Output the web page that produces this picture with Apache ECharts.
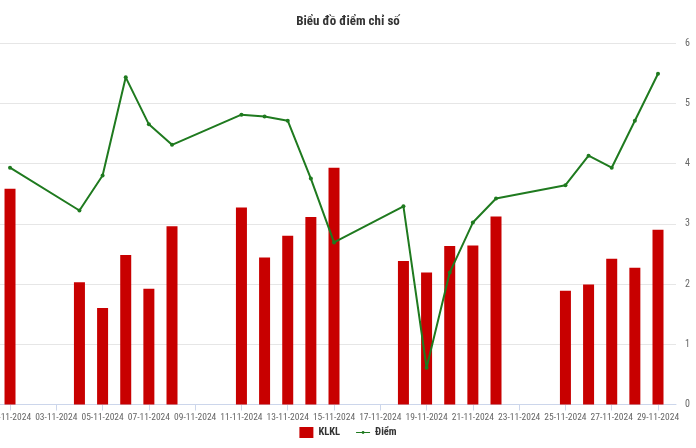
<!DOCTYPE html>
<html>
<head>
<meta charset="utf-8">
<script src="https://cdn.jsdelivr.net/npm/echarts@6/dist/echarts.min.js"></script>
<style>html,body{margin:0;padding:0;background:#fff}#c{width:696px;height:448px}</style>
</head>
<body>
<div id="c"></div>
<script>
const tradeDates = ['2024-11-01','2024-11-04','2024-11-05','2024-11-06','2024-11-07','2024-11-08',
  '2024-11-11','2024-11-12','2024-11-13','2024-11-14','2024-11-15',
  '2024-11-18','2024-11-19','2024-11-20','2024-11-21','2024-11-22',
  '2024-11-25','2024-11-26','2024-11-27','2024-11-28','2024-11-29'];
const klkl = [3.58,2.03,1.60,2.48,1.92,2.96, 3.27,2.44,2.80,3.11,3.93, 2.38,2.19,2.63,2.64,3.12, 1.89,1.99,2.42,2.27,2.90];
const diem = [3.93,3.22,3.80,5.43,4.65,4.31, 4.81,4.78,4.71,3.75,2.69, 3.29,0.61,2.19,3.02,3.42, 3.64,4.13,3.93,4.71,5.49];
const yTicks = [0,1,2,3,4,5,6];
const titleText = 'Biểu đồ điểm chỉ số';

const DAY = 86400000;
const ts = s => { const p = s.split('-'); return Date.UTC(+p[0], +p[1]-1, +p[2]); };
const xs = tradeDates.map(ts);
const font = "'Roboto Condensed','Liberation Sans',sans-serif";

const chart = echarts.init(document.getElementById('c'));
chart.setOption({
  useUTC: true,
  animation: false,
  title: { text: titleText, left: 'center', top: 10,
    textStyle: { fontFamily: font, fontSize: 13, fontWeight: 'bold', color: '#333' } },
  legend: { bottom: 5, left: 'center', itemGap: 16, itemWidth: 14, itemHeight: 11,
    textStyle: { fontFamily: font, fontSize: 10.5, fontWeight: 'bold', color: '#333' },
    data: [{ name: 'KLKL', icon: 'rect' },
           { name: 'Điểm', icon: 'path://M0,4.35H16V5.65H0Z M8,3.4A1.6,1.6 0 1,1 7.99,3.4Z' }] },
  grid: { left: 0, right: 20, top: 43, bottom: 43.5, outerBoundsMode: 'none', containLabel: false },
  xAxis: {
    type: 'time',
    // bar overflow padding is added by ECharts on top of these bounds
    min: ts('2024-11-01') - 0.195 * DAY,
    max: ts('2024-11-29') + 0.54 * DAY,
    minInterval: 2 * DAY, maxInterval: 2 * DAY,
    axisLine: { lineStyle: { color: '#ccd6eb' } },
    axisTick: { show: true, length: 6, lineStyle: { color: '#ccd6eb' } },
    splitLine: { show: false },
    axisLabel: { formatter: '{dd}-{MM}-{yyyy}', color: '#666', fontFamily: font, fontSize: 9.5, margin: 8, hideOverlap: false }
  },
  yAxis: {
    type: 'value', position: 'right', min: 0, max: 6, interval: 1,
    axisLine: { show: false }, axisTick: { show: false },
    splitLine: { lineStyle: { color: '#e6e6e6' } },
    axisLabel: { color: '#666', fontFamily: font, fontSize: 10, margin: 9,
      customValues: yTicks }
  },
  series: [
    { name: 'KLKL', type: 'bar', barWidth: 11, itemStyle: { color: '#c80000' },
      data: xs.map((x, i) => [x, klkl[i]]) },
    { name: 'Điểm', type: 'line', symbol: 'circle', symbolSize: 4, showSymbol: true,
      lineStyle: { color: '#1f7a1f', width: 2 }, itemStyle: { color: '#1f7a1f' },
      data: xs.map((x, i) => [x, diem[i]]) }
  ]
});
</script>
</body>
</html>
